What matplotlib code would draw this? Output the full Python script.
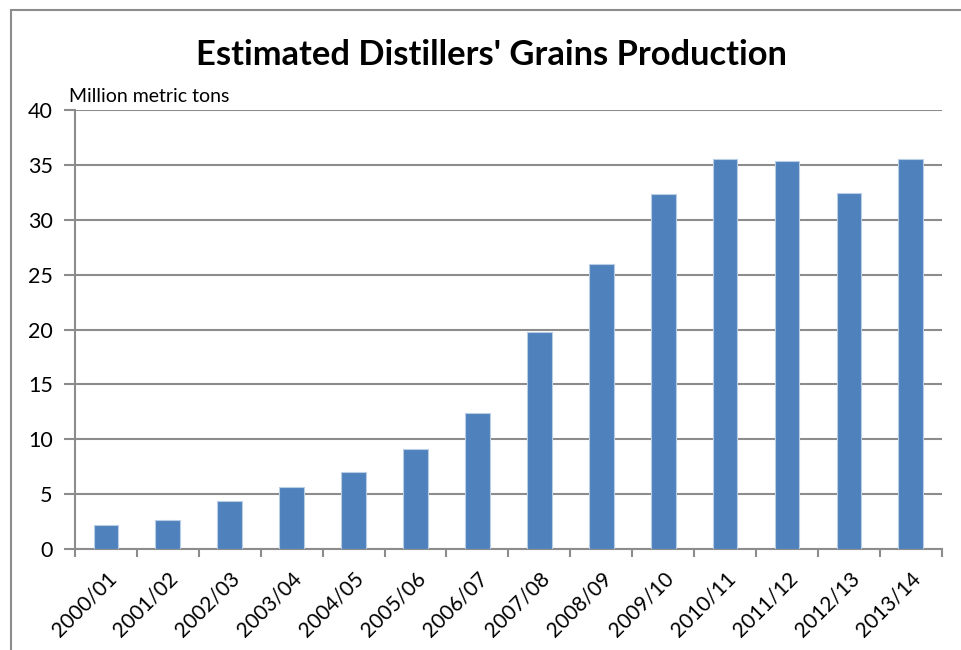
import numpy as np
import matplotlib.pyplot as plt
from matplotlib.patches import Rectangle

# Data
SEASONS = ["2000/01", "2001/02", "2002/03", "2003/04", "2004/05", "2005/06", "2006/07",
           "2007/08", "2008/09", "2009/10", "2010/11", "2011/12", "2012/13", "2013/14"]
PRODUCTION = [2.24, 2.66, 4.39, 5.63, 7.0, 9.12, 12.39,
              19.75, 25.96, 32.36, 35.57, 35.36, 32.45, 35.57]
Y_TICKS = [0, 5, 10, 15, 20, 25, 30, 35, 40]

BAR_COLOR = "#4F81BD"
GRID_COLOR = "#8C8C8C"

plt.rcParams['font.family'] = ['Lato', 'DejaVu Sans']


def main():
    fig = plt.figure(figsize=(9.61, 6.5), dpi=100)
    ax = fig.add_axes([0.078, 0.155, 0.902, 0.676])

    x = np.arange(len(SEASONS))
    ax.bar(x, PRODUCTION, width=0.4, color=BAR_COLOR, edgecolor="#B9CDE5",
           linewidth=0.8, zorder=3)

    ax.set_xlim(-0.5, len(SEASONS) - 0.5)
    ax.set_ylim(0, 40)
    ax.set_yticks(Y_TICKS)
    ax.set_yticklabels([str(v) for v in Y_TICKS], fontsize=15.5)
    ax.yaxis.grid(True, color=GRID_COLOR, linewidth=1.5, zorder=0)

    # category labels at centres, tick marks at boundaries
    ax.set_xticks(x)
    ax.set_xticklabels(SEASONS, rotation=45, ha="right", rotation_mode="anchor",
                       fontsize=15)
    ax.set_xticks(np.arange(-0.5, len(SEASONS)), minor=True)
    ax.tick_params(axis="x", which="major", length=0, pad=14)
    ax.tick_params(axis="x", which="minor", length=6, width=1.5, color=GRID_COLOR)
    ax.tick_params(axis="y", length=8, width=1.5, color=GRID_COLOR, pad=8)

    for side in ("top", "right"):
        ax.spines[side].set_visible(False)
    for side in ("left", "bottom"):
        ax.spines[side].set_color(GRID_COLOR)
        ax.spines[side].set_linewidth(1.5)

    fig.text(0.511, 0.915, "Estimated Distillers' Grains Production", ha="center",
             va="center", fontsize=24.8, fontweight="bold")
    fig.text(0.072, 0.838, "Million metric tons", ha="left", va="bottom", fontsize=14)

    # outer chart border (runs off the right and bottom edges)
    fig.patches.append(Rectangle((11 / 961, -0.05), 1.1, 1 - 10 / 650 + 0.05,
                                 transform=fig.transFigure, fill=False,
                                 edgecolor="#8C8C8C", linewidth=1.5))

    fig.savefig("out.png", dpi=100)


if __name__ == "__main__":
    main()
